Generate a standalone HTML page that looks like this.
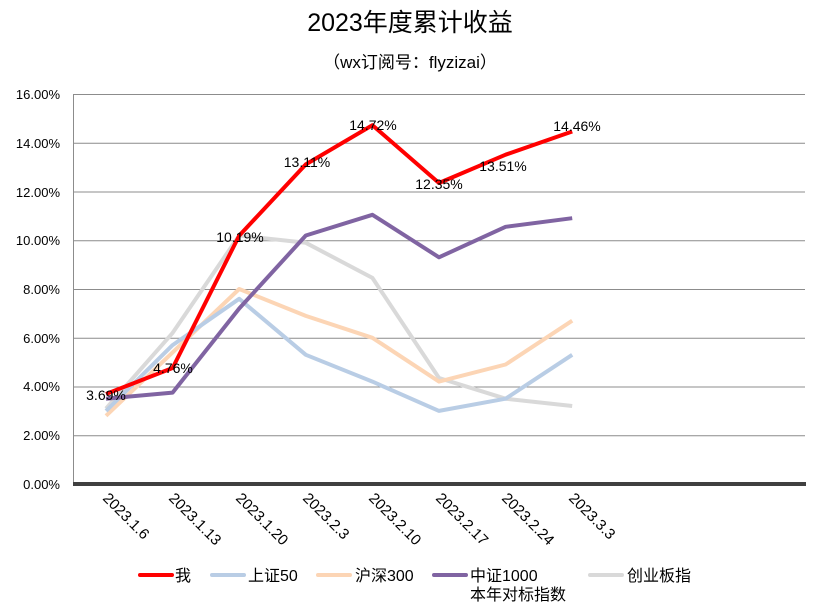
<!DOCTYPE html>
<html><head><meta charset="utf-8"><style>
body{margin:0;background:#fff}
svg{display:block;font-family:"Liberation Sans","Noto Sans CJK SC",sans-serif}
</style></head><body>
<svg width="819" height="606" viewBox="0 0 819 606">
<rect width="819" height="606" fill="#fff"/>
<text x="410" y="31" font-size="25" text-anchor="middle">2023年度累计收益</text>
<text x="410" y="68" font-size="17" text-anchor="middle">（wx订阅号：flyzizai）</text>
<g stroke="#8c8c8c" stroke-width="1">
<line x1="73" y1="94.5" x2="805" y2="94.5"/>
<line x1="73" y1="143.2" x2="805" y2="143.2"/>
<line x1="73" y1="192" x2="805" y2="192"/>
<line x1="73" y1="240.7" x2="805" y2="240.7"/>
<line x1="73" y1="289.5" x2="805" y2="289.5"/>
<line x1="73" y1="338.2" x2="805" y2="338.2"/>
<line x1="73" y1="387" x2="805" y2="387"/>
<line x1="73" y1="435.7" x2="805" y2="435.7"/>
<line x1="73.5" y1="94" x2="73.5" y2="484"/>
</g>
<line x1="73" y1="484" x2="806" y2="484" stroke="#404040" stroke-width="4"/>
<g font-size="13" text-anchor="end">
<text x="60" y="99">16.00%</text><text x="60" y="148">14.00%</text><text x="60" y="197">12.00%</text>
<text x="60" y="245">10.00%</text><text x="60" y="294">8.00%</text><text x="60" y="343">6.00%</text>
<text x="60" y="391">4.00%</text><text x="60" y="440">2.00%</text><text x="60" y="489">0.00%</text>
</g>
<g font-size="15">
<text transform="translate(102,499) rotate(45)">2023.1.6</text>
<text transform="translate(168,499) rotate(45)">2023.1.13</text>
<text transform="translate(235,499) rotate(45)">2023.1.20</text>
<text transform="translate(302,499) rotate(45)">2023.2.3</text>
<text transform="translate(368,499) rotate(45)">2023.2.10</text>
<text transform="translate(435,499) rotate(45)">2023.2.17</text>
<text transform="translate(501,499) rotate(45)">2023.2.24</text>
<text transform="translate(568,499) rotate(45)">2023.3.3</text>
</g>
<g fill="none" stroke-width="4" stroke-linejoin="round">
<polyline stroke="#d9d9d9" points="106,408.6 172.6,332.9 239.2,235.5 305.8,242.8 372.4,277.9 439,378 505.6,398.7 572.2,406"/>
<polyline stroke="#fcd5b5" points="106,415.8 172.6,352.4 239.2,289 305.8,315.9 372.4,337.8 439,381.6 505.6,364.5 572.2,320.7"/>
<polyline stroke="#b9cde5" points="106,410.9 172.6,345.1 239.2,298.8 305.8,354.8 372.4,381.6 439,410.9 505.6,398.7 572.2,354.8"/>
<polyline stroke="#8064a2" points="106,398.7 172.6,392.6 239.2,308.5 305.8,235.5 372.4,214.8 439,257.3 505.6,226.8 572.2,218.2"/>
<polyline stroke="#ff0000" points="106,394 172.6,368 239.2,235.6 305.8,164.4 372.4,125.2 439,183 505.6,154.7 572.2,131.5"/>
</g>
<g font-size="14" text-anchor="middle">
<text x="106" y="400">3.69%</text>
<text x="173" y="373">4.76%</text>
<text x="240" y="242">10.19%</text>
<text x="307" y="167">13.11%</text>
<text x="373" y="130">14.72%</text>
<text x="439" y="189">12.35%</text>
<text x="503" y="171">13.51%</text>
<text x="577" y="131">14.46%</text>
</g>
<g stroke-width="4" stroke-linecap="round">
<line x1="140" y1="575" x2="172" y2="575" stroke="#ff0000"/>
<line x1="212" y1="575" x2="244" y2="575" stroke="#b9cde5"/>
<line x1="318" y1="575" x2="350" y2="575" stroke="#fcd5b5"/>
<line x1="434" y1="575" x2="466" y2="575" stroke="#8064a2"/>
<line x1="590" y1="575" x2="622" y2="575" stroke="#d9d9d9"/>
</g>
<g font-size="16">
<text x="175" y="581">我</text>
<text x="248" y="581">上证50</text>
<text x="355" y="581">沪深300</text>
<text x="470" y="581">中证1000</text>
<text x="470" y="600">本年对标指数</text>
<text x="627" y="581">创业板指</text>
</g>
</svg>
</body></html>
